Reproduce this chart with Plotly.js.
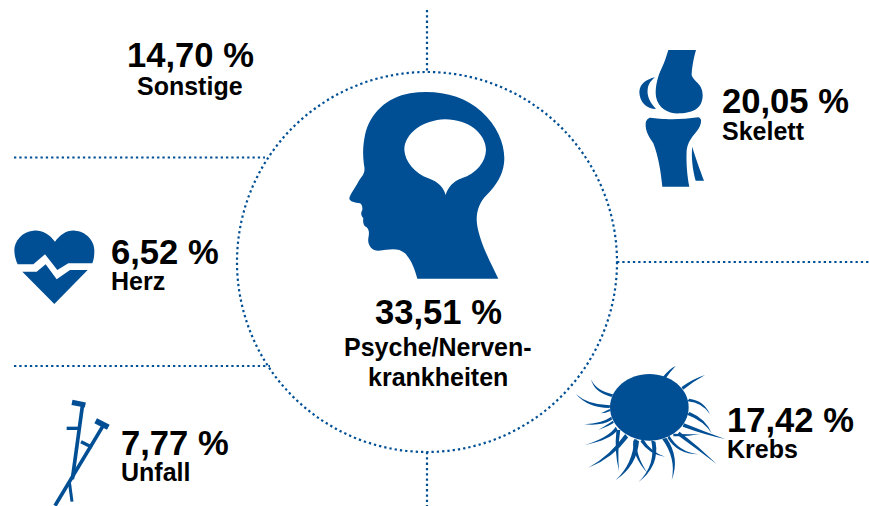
<!DOCTYPE html>
<html><head><meta charset="utf-8">
<script src="https://cdn.plot.ly/plotly-3.0.1.min.js"></script>
<style>html,body{margin:0;padding:0;background:#fff}#c{width:869px;height:506px}</style>
</head><body><div id="c"></div>
<script>
const categories=["Psyche/Nerven-<br>krankheiten","Skelett","Krebs","Sonstige","Unfall","Herz"];
const values=[33.51,20.05,17.42,14.70,7.77,6.52];
const valueAnchorX=[438,721,726,190,120,110];
const valueY=[312,101,420,55,443,252];
const labelY=[347,131,449,86,472,281];
const valueAlign=["center","left","left","center","left","left"];
const BLUE="#004f95";
const fmt=v=>v.toFixed(2).replace(".",",")+" %";

// icon outlines, each written in its own local units, placed by tf()
function tf(p,ox,oy,s){let i=0;return p.replace(/-?\d+(\.\d+)?/g,m=>{const v=+m*s+(i++%2?oy:ox);return v.toFixed(2);});}
const S=1/3;
const head="M232,566 C225,540 215,510 195,490 C175,472 150,478 115,482 C95,482 82,465 85,445 C88,430 88,420 80,412 C70,408 68,395 70,385 C62,375 62,368 67,360 C68,350 65,342 60,340 C45,338 28,335 28,325 C30,312 45,295 55,275 C65,258 78,250 72,225 C68,195 68,170 75,135 C90,70 140,22 210,10 C290,-2 370,15 425,65 C475,110 498,170 492,220 C488,255 470,285 440,315 C420,335 410,360 410,390 C412,440 445,505 475,566 Z M317,315 C312,295 295,275 265,265 C225,250 195,215 193,180 C193,130 250,90 315,88 C385,88 437,130 438,180 C437,215 410,250 365,265 C340,273 322,295 317,315 Z";
const knee=["M115,30 L198,30 C192,50 185,85 185,105 C190,125 218,130 218,165 C218,205 190,218 150,220 C115,222 85,205 78,170 C74,140 85,105 95,85 C105,65 110,45 115,30 Z",
"M75,112 C50,118 30,130 28,155 C28,185 50,207 78,207 C62,190 50,170 53,148 C55,130 65,120 75,112 Z",
"M62,233 C90,238 150,240 205,232 C215,235 215,245 210,258 C200,280 175,295 170,330 C168,370 172,410 178,440 L97,440 C92,390 85,350 70,310 C60,295 45,275 47,250 C48,240 55,233 62,233 Z",
"M187,320 C195,350 210,390 222,422 L197,422 C188,390 183,350 187,320 Z"];
const heart=["M150,65 C130,40 110,30 85,32 C50,35 28,65 28,90 C28,105 32,120 38,133 L85,133 L120,103 L157,150 L190,130 L262,130 C268,115 268,100 268,90 C268,60 240,33 210,32 C185,30 165,45 150,65 Z",
"M52,155 L95,155 L122,133 L155,178 L195,150 L248,150 L148,252 Z"];
const crutchLines=[[128,42,97,268,11],[80,115,118,115,10],[96,37,136,45,16],[190,106,45,347,11],[167,92,205,112,17],[123,155,156,172,10],[88,275,96,335,9]];
const cell="M105,127 C105,70 160,27 223,27 C286,27 341,70 341,127 C341,184 286,227 223,227 C160,227 105,184 105,127 Z";
const tentacles=[[268,38,285,15,302,3,8],[322,70,355,45,390,30,8],[340,105,385,110,405,148,8],[340,145,390,165,410,205,10],[325,180,390,205,450,222,10],[295,210,335,212,375,207,6],[310,205,370,250,425,297,10],[280,215,310,265,370,268,8],[268,220,310,280,290,345,12],[200,225,225,265,270,275,10],[235,228,250,300,190,352,12],[180,225,175,270,218,325,10],[185,225,180,300,122,345,14],[155,212,110,275,40,308,12],[130,195,122,260,132,318,10],[125,190,105,220,30,240,10],[115,170,100,180,70,195,6],[110,160,80,180,28,178,8],[105,135,90,142,78,145,5],[105,125,40,125,3,88,8],[112,92,60,80,48,43,8]];
function tent(t){const[x,y,cx,cy,tx,ty,w0]=t;const w=w0*1.15;const dx=tx-x,dy=ty-y,L=Math.hypot(dx,dy),nx=-dy/L*w/2,ny=dx/L*w/2;
 return `M${x+nx},${y+ny} Q${cx+nx*.8},${cy+ny*.8} ${tx},${ty} Q${cx-nx*.8},${cy-ny*.8} ${x-nx},${y-ny} Z`;}

const shapes=[];
const fill=p=>shapes.push({type:"path",xref:"x",yref:"y",path:p,fillcolor:BLUE,line:{width:0},fillrule:"evenodd"});
const dots={color:BLUE,width:2.2,dash:"2.3px,3px"};
const seg=(x0,y0,x1,y1)=>shapes.push({type:"line",xref:"x",yref:"y",x0,y0,x1,y1,line:dots});
shapes.push({type:"circle",xref:"x",yref:"y",x0:237,y0:72,x1:617,y1:452,line:dots});
seg(427,10,427,72);seg(427,452,427,506);seg(617,262,869,262);seg(14,157.5,265,157.5);seg(14,366,270,366);
fill(tf(head,340,90,S));
knee.forEach(p=>fill(tf(p,630,40,S)));
heart.forEach(p=>fill(tf(p,5,220,S)));
fill(tf(cell,575,365,S));
tentacles.forEach(t=>fill(tf(tent(t),575,365,S)));
crutchLines.forEach(c=>shapes.push({type:"line",xref:"x",yref:"y",x0:40+c[0]*S,y0:390+c[1]*S,x1:40+c[2]*S,y1:390+c[3]*S,line:{color:BLUE,width:c[4]*S}}));

const annotations=[];
categories.forEach((c,i)=>{
 annotations.push({x:valueAnchorX[i],y:valueY[i],xref:"x",yref:"y",text:"<b>"+fmt(values[i])+"</b>",showarrow:false,xanchor:valueAlign[i],yanchor:"middle",font:{family:"Liberation Sans",size:34.6,color:"#000"},borderpad:0});
 c.split("<br>").forEach((line,k)=>annotations.push({x:valueAnchorX[i],y:labelY[i]+k*30,xref:"x",yref:"y",text:"<b>"+line+"</b>",showarrow:false,xanchor:valueAlign[i],yanchor:"middle",font:{family:"Liberation Sans",size:25,color:"#000"},align:"center",borderpad:0}));
});
Plotly.newPlot("c",[{x:[],y:[],type:"scatter"}],{
 width:869,height:506,margin:{l:0,r:0,t:0,b:0},paper_bgcolor:"#fff",plot_bgcolor:"#fff",showlegend:false,
 xaxis:{range:[0,869],visible:false,fixedrange:true},
 yaxis:{range:[506,0],visible:false,fixedrange:true},
 shapes,annotations
},{displayModeBar:false,staticPlot:true});
</script></body></html>
